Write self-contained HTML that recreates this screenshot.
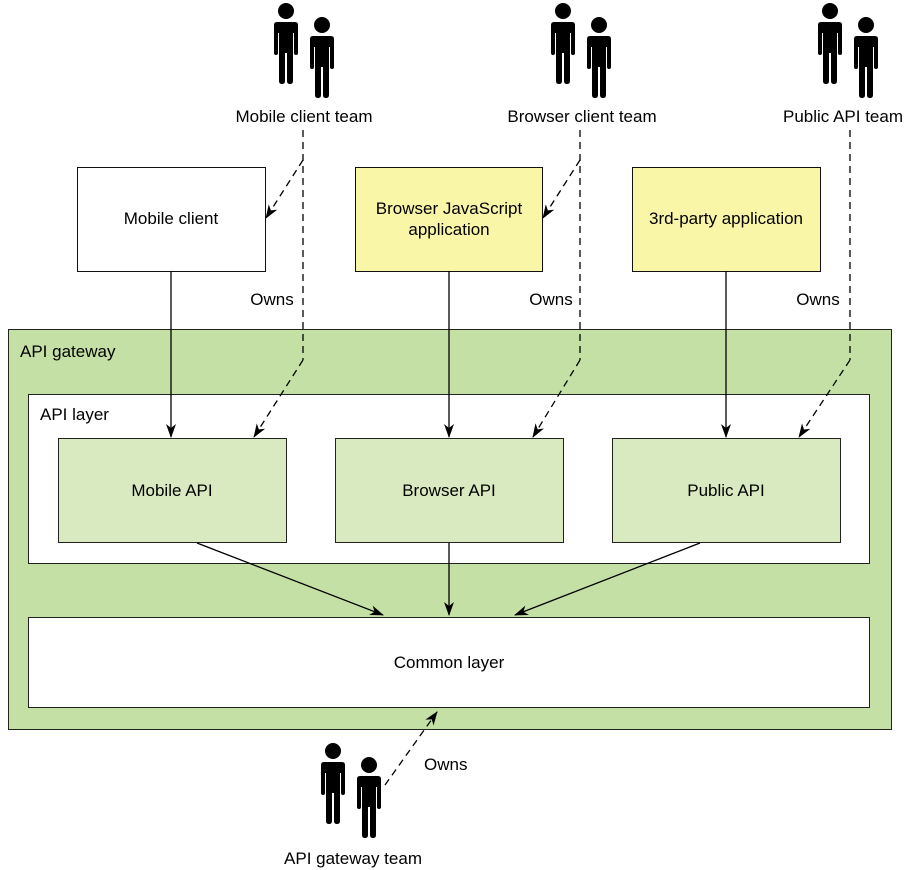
<!DOCTYPE html>
<html><head><style>
html,body{margin:0;padding:0;background:#fff;}
svg{display:block;font-family:"Liberation Sans",Arial,sans-serif;}
</style></head><body>
<svg width="908" height="870" viewBox="0 0 908 870" xmlns="http://www.w3.org/2000/svg">
<defs>
<marker id="ah" markerWidth="14" markerHeight="14" refX="13" refY="7" orient="auto" markerUnits="userSpaceOnUse">
<path d="M0,2 L14,7 L0,12 L4,7 z" fill="#000"/>
</marker>
<g id="p1">
<circle cx="0" cy="8" r="8"/>
<path d="M-12,22 Q-12,19 -9,19 L9,19 Q12,19 12,22 L12,50 Q12,52 10,52 Q8,52 8,50 L8,30 L7,30 L7,78 Q7,81 4,81 Q1,81 1,78 L1,50 L-1,50 L-1,78 Q-1,81 -4,81 Q-7,81 -7,78 L-7,30 L-8,30 L-8,50 Q-8,52 -10,52 Q-12,52 -12,50 Z"/>
</g>
<g id="pp">
<use href="#p1" x="0" y="0"/>
<use href="#p1" x="36" y="14"/>
</g>
</defs>

<use href="#pp" x="286" y="3"/>
<use href="#pp" x="563" y="3"/>
<use href="#pp" x="830" y="3"/>
<use href="#pp" x="333" y="743"/>

<g font-size="17" fill="#000">
<text x="304" y="122" text-anchor="middle">Mobile client team</text>
<text x="582" y="122" text-anchor="middle">Browser client team</text>
<text x="843" y="122" text-anchor="middle">Public API team</text>
<text x="353" y="864" text-anchor="middle">API gateway team</text>
</g>

<rect x="8.5" y="329.5" width="883" height="400" fill="#c5e0a5" stroke="#222"/>
<rect x="28.5" y="394.5" width="841" height="169" fill="#fff" stroke="#222"/>
<rect x="28.5" y="617.5" width="841" height="90" fill="#fff" stroke="#222"/>
<rect x="58.5" y="438.5" width="228" height="104" fill="#d9eac0" stroke="#222"/>
<rect x="335.5" y="438.5" width="228" height="104" fill="#d9eac0" stroke="#222"/>
<rect x="612.5" y="438.5" width="228" height="104" fill="#d9eac0" stroke="#222"/>
<rect x="77.5" y="167.5" width="188" height="104" fill="#fff" stroke="#111"/>
<rect x="355.5" y="167.5" width="187" height="104" fill="#faf6a8" stroke="#111"/>
<rect x="632.5" y="167.5" width="188" height="104" fill="#faf6a8" stroke="#111"/>

<g font-size="17" fill="#000">
<text x="20" y="357">API gateway</text>
<text x="40" y="420">API layer</text>
<text x="171" y="224" text-anchor="middle">Mobile client</text>
<text x="449" y="214" text-anchor="middle">Browser JavaScript</text>
<text x="449" y="235" text-anchor="middle">application</text>
<text x="726" y="224" text-anchor="middle">3rd-party application</text>
<text x="172" y="496" text-anchor="middle">Mobile API</text>
<text x="449" y="496" text-anchor="middle">Browser API</text>
<text x="726" y="496" text-anchor="middle">Public API</text>
<text x="449" y="668" text-anchor="middle">Common layer</text>
<text x="272" y="305" text-anchor="middle">Owns</text>
<text x="551" y="305" text-anchor="middle">Owns</text>
<text x="818" y="305" text-anchor="middle">Owns</text>
<text x="424" y="770">Owns</text>
</g>

<g stroke="#000" stroke-width="1.3" fill="none">
<line x1="171" y1="271" x2="171" y2="437" marker-end="url(#ah)"/>
<line x1="449" y1="271" x2="449" y2="437" marker-end="url(#ah)"/>
<line x1="726" y1="271" x2="726" y2="437" marker-end="url(#ah)"/>
<line x1="197" y1="543" x2="383" y2="615" marker-end="url(#ah)"/>
<line x1="449" y1="543" x2="449" y2="615" marker-end="url(#ah)"/>
<line x1="700" y1="543" x2="515" y2="615" marker-end="url(#ah)"/>
</g>
<g stroke="#000" stroke-width="1.3" fill="none" stroke-dasharray="7,5">
<line x1="303" y1="130" x2="303" y2="360"/>
<line x1="303" y1="160" x2="266" y2="218" marker-end="url(#ah)"/>
<line x1="303" y1="360" x2="254" y2="437" marker-end="url(#ah)"/>
<line x1="580" y1="130" x2="580" y2="360"/>
<line x1="580" y1="160" x2="543" y2="218" marker-end="url(#ah)"/>
<line x1="580" y1="360" x2="533" y2="437" marker-end="url(#ah)"/>
<line x1="850" y1="130" x2="850" y2="360"/>
<line x1="850" y1="360" x2="799" y2="437" marker-end="url(#ah)"/>
<line x1="385" y1="785" x2="437" y2="712" marker-end="url(#ah)"/>
</g>
</svg>
</body></html>
